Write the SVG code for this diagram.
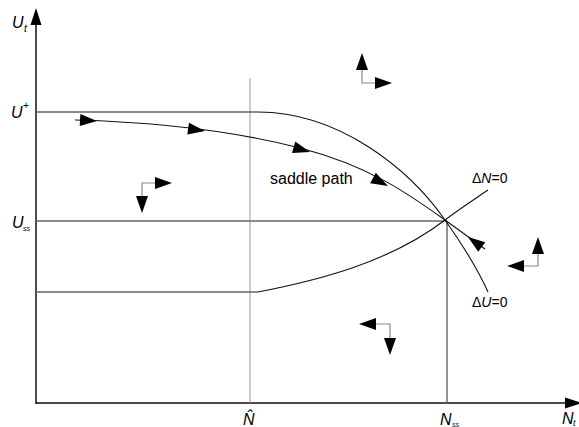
<svg xmlns="http://www.w3.org/2000/svg" width="579" height="427" viewBox="0 0 579 427">
<style>
text{font-family:"Liberation Sans",Arial,sans-serif;fill:#000}
.it{font-style:italic}
.axis{stroke:#111;stroke-width:1.5;fill:none}
.ref{stroke:#666;stroke-width:1.4;fill:none}
.light{stroke:#999;stroke-width:1;fill:none}
.curve{stroke:#111;stroke-width:1.1;fill:none}
.shaft{stroke:#888;stroke-width:1.2;fill:none}
.head{fill:#000}
</style>
<defs>
<path id="ah" d="M0,0 L-17,-6 L-17,6 Z"/>
<path id="axh" d="M0,0 L-17,-5.5 L-17,5.5 Z"/>
</defs>
<rect width="579" height="427" fill="#fff"/>
<g id="axes">
<path class="axis" d="M36,404 V20 M36,403 H570"/>
<use href="#axh" class="head" transform="translate(36,8) rotate(-90)"/>
<use href="#axh" class="head" transform="translate(582,403)"/>
<text class="it" x="12" y="28" font-size="16">U</text>
<text class="it" x="24" y="32" font-size="10">t</text>
<text class="it" x="11" y="118" font-size="16">U</text>
<text x="23" y="109" font-size="10">+</text>
<text class="it" x="12" y="228" font-size="16">U</text>
<text class="it" x="23" y="231" font-size="7">ss</text>
<text class="it" x="243" y="425" font-size="16">N&#770;</text>
<text class="it" x="440" y="425" font-size="16">N</text>
<text class="it" x="452" y="427" font-size="7">ss</text>
<text class="it" x="562" y="424" font-size="16">N</text>
<text class="it" x="573" y="426" font-size="9">t</text>
</g>
<g id="reference-lines">
<path class="light" d="M250,78 V403"/>
<path class="ref" d="M36,221 H447 M447,221 V403"/>
</g>
<g id="delta-U-zero">
<path class="ref" d="M36,112 H258"/>
<path class="curve" d="M258,112 C340,112 410,170 445,220 C457,237 476,265 488,292"/>
<text x="472" y="307" font-size="14">Δ<tspan class="it">U</tspan>=0</text>
</g>
<g id="delta-N-zero">
<path class="ref" d="M36,292 H258"/>
<path class="curve" d="M258,292 C320,280 390,262 445,220 C462,207 478,197 488,190"/>
<text x="472" y="183" font-size="14">Δ<tspan class="it">N</tspan>=0</text>
</g>
<g id="saddle-path">
<path class="curve" d="M75,120 C150,122 230,130 300,148 S410,195 445,220 L485,249"/>
<use href="#ah" class="head" transform="translate(97,121) rotate(3)"/>
<use href="#ah" class="head" transform="translate(205,131) rotate(8)"/>
<use href="#ah" class="head" transform="translate(310,152) rotate(16)"/>
<use href="#ah" class="head" transform="translate(388,186) rotate(28)"/>
<use href="#ah" class="head" transform="translate(468,237) rotate(216)"/>
<text x="270" y="184" font-size="16">saddle path</text>
</g>
<g id="phase-arrows">
<g id="phase-top">
<path class="shaft" d="M362,69 V83 H376"/>
<use href="#ah" class="head" transform="translate(362,53) rotate(-90)"/>
<use href="#ah" class="head" transform="translate(392,83)"/>
</g>
<g id="phase-left">
<path class="shaft" d="M156,183 H142 V197"/>
<use href="#ah" class="head" transform="translate(172,183)"/>
<use href="#ah" class="head" transform="translate(142,213) rotate(90)"/>
</g>
<g id="phase-right">
<path class="shaft" d="M538,253 V266 H523"/>
<use href="#ah" class="head" transform="translate(538,237) rotate(-90)"/>
<use href="#ah" class="head" transform="translate(507,266) rotate(180)"/>
</g>
<g id="phase-bottom">
<path class="shaft" d="M375,324 H390 V339"/>
<use href="#ah" class="head" transform="translate(359,324) rotate(180)"/>
<use href="#ah" class="head" transform="translate(390,355) rotate(90)"/>
</g>
</g>
</svg>
